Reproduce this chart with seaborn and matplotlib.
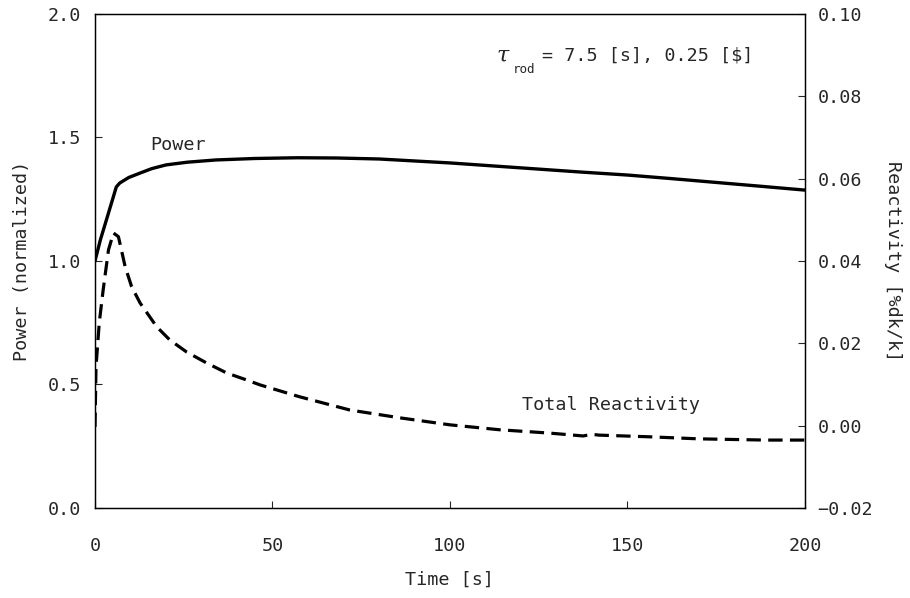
import numpy as np
import pandas as pd
import matplotlib
matplotlib.use("Agg")
import matplotlib.pyplot as plt
import seaborn as sns

# Power (normalized)
power_t = [0, 1.5, 3.5, 6.0, 7.0, 9.5, 12.7, 16, 20, 26, 34, 45, 57, 68, 80, 90, 100, 112, 125, 137, 150, 162, 175, 188, 200]
power_v = [1.0, 1.085, 1.18, 1.30, 1.316, 1.338, 1.356, 1.374, 1.389, 1.40, 1.409, 1.415, 1.418, 1.417, 1.413, 1.405, 1.397, 1.385, 1.372, 1.36, 1.348, 1.334, 1.318, 1.302, 1.287]

# Total reactivity [%dk/k]
react_t = [0, 0.28, 1.2, 2.3, 3.8, 5.2, 6.6, 8.5, 10.3, 12.7, 17.4, 21.1, 25.8, 31.5, 37.1, 42.7, 46.5, 57.7, 71.8, 85.9, 100, 114, 128, 137.5, 140, 142, 156, 170, 189, 200]
react_v = [-0.0003, 0.0143, 0.025, 0.033, 0.0427, 0.0468, 0.0459, 0.0386, 0.0338, 0.0298, 0.024, 0.0208, 0.0179, 0.0152, 0.0128, 0.0111, 0.0099, 0.0070, 0.0038, 0.0019, 0.0002, -0.0010, -0.0018, -0.0025, -0.0021, -0.0023, -0.0027, -0.0032, -0.0035, -0.0035]

x_ticks = [0, 50, 100, 150, 200]
left_ticks = [0.0, 0.5, 1.0, 1.5, 2.0]
right_ticks = [-0.02, 0.00, 0.02, 0.04, 0.06, 0.08, 0.10]

sns.set_style("ticks")
plt.rcParams['font.family'] = ['DejaVu Sans Mono', 'DejaVu Sans']
plt.rcParams['mathtext.fontset'] = 'dejavuserif'

fig = plt.figure(figsize=(9.1, 5.98), dpi=100)
ax = fig.add_axes([0.1044, 0.1505, 0.7802, 0.8261])
ax2 = ax.twinx()

df_p = pd.DataFrame({"t": power_t, "p": power_v})
df_r = pd.DataFrame({"t": react_t, "r": react_v})

sns.lineplot(data=df_p, x="t", y="p", ax=ax, color="black", linewidth=2.4)
sns.lineplot(data=df_r, x="t", y="r", ax=ax2, color="black", linewidth=2.3)
ax2.lines[0].set_dashes([4.5, 2.3])

ax.set_xlim(0, 200)
ax.set_ylim(0, 2.0)
ax2.set_ylim(-0.02, 0.10)
ax.set_xticks(x_ticks)
ax.set_xticklabels([str(v) for v in x_ticks])
ax.set_yticks(left_ticks)
ax.set_yticklabels([f"{v:.1f}" for v in left_ticks])
ax2.set_yticks(right_ticks)
ax2.set_yticklabels([f"{v:.2f}".replace("-", "\u2212") for v in right_ticks])

fs = 13.2
ax.tick_params(axis="x", direction="in", length=5, width=0.8, pad=21, labelsize=fs)
ax.tick_params(axis="y", direction="in", length=5, width=0.8, pad=10, labelsize=fs)
ax2.tick_params(axis="y", direction="in", length=5, width=0.8, pad=9, labelsize=fs)
for a in (ax, ax2):
    for s in a.spines.values():
        s.set_visible(True)
        s.set_linewidth(0.9)
        s.set_color("black")

ax.set_xlabel("Time [s]", fontsize=fs, labelpad=11)
ax.set_ylabel("Power (normalized)", fontsize=fs, labelpad=12)
ax2.set_ylabel("Reactivity [%dk/k]", fontsize=fs, rotation=-90, labelpad=21)

ax.text(15.5, 1.47, "Power", fontsize=fs, ha="left", va="center")
ax.text(120.3, 0.417, "Total Reactivity", fontsize=fs, ha="left", va="center")
ax.text(113, 1.83, r"$\tau$", fontsize=16, ha="left", va="center")
ax.text(117.8, 1.775, "rod", fontsize=9, ha="left", va="center")
ax.text(126, 1.83, "= 7.5 [s], 0.25 [$]", fontsize=fs, ha="left", va="center")

fig.savefig("out.png", dpi=100)
